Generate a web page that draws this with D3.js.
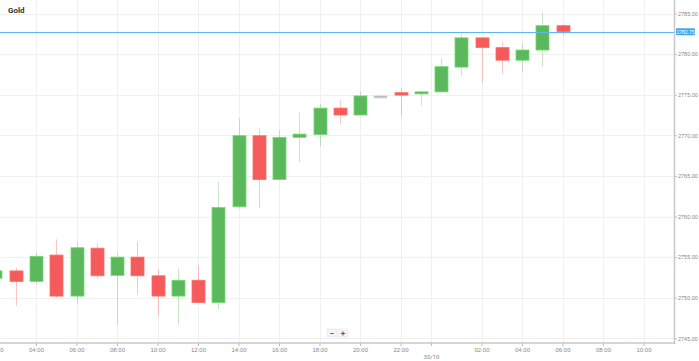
<!DOCTYPE html>
<html>
<head>
<meta charset="utf-8">
<script src="https://cdn.jsdelivr.net/npm/d3@7"></script>
<style>
  html, body { margin: 0; padding: 0; background: #fff; }
  svg { display: block; font-family: Roboto, "Liberation Sans", Arial, sans-serif; }
</style>
</head>
<body>
<svg id="chart" width="699" height="361"></svg>
<script>
// ---- data ----
const title = "Gold";
const candleTimes = [
  "2024-10-29T02:00","2024-10-29T03:00","2024-10-29T04:00","2024-10-29T05:00","2024-10-29T06:00",
  "2024-10-29T07:00","2024-10-29T08:00","2024-10-29T09:00","2024-10-29T10:00","2024-10-29T11:00",
  "2024-10-29T12:00","2024-10-29T13:00","2024-10-29T14:00","2024-10-29T15:00","2024-10-29T16:00",
  "2024-10-29T17:00","2024-10-29T18:00","2024-10-29T19:00","2024-10-29T20:00","2024-10-29T21:00",
  "2024-10-29T22:00","2024-10-29T23:00","2024-10-30T00:00","2024-10-30T01:00","2024-10-30T02:00",
  "2024-10-30T03:00","2024-10-30T04:00","2024-10-30T05:00","2024-10-30T06:00"
];
const opens  = [2752.4,2753.3,2752.0,2755.25,2750.2,2756.1,2752.75,2755.0,2752.7,2750.2,2752.15,2749.4,2761.2,2769.95,2764.55,2769.75,2770.1,2773.35,2772.5,2774.85,2775.25,2775.1,2775.35,2778.4,2782.0,2780.8,2779.25,2780.5,2783.5];
const highs  = [2753.6,2753.7,2755.6,2757.2,2756.9,2756.7,2755.5,2756.95,2753.5,2753.6,2754.0,2764.25,2772.1,2770.85,2770.65,2772.8,2773.85,2774.3,2775.4,2774.9,2775.8,2775.45,2779.5,2782.55,2782.1,2781.5,2781.35,2785.2,2783.7];
const lows   = [2752.2,2749.0,2751.7,2750.0,2749.3,2752.3,2746.6,2750.4,2747.8,2746.65,2749.35,2748.6,2761.0,2761.1,2764.5,2766.7,2768.6,2771.4,2772.4,2774.8,2772.3,2773.7,2775.2,2777.3,2776.5,2777.6,2777.85,2778.45,2782.3];
const closes = [2753.3,2752.0,2755.1,2750.2,2756.15,2752.7,2755.0,2752.7,2750.2,2752.15,2749.4,2761.1,2769.95,2764.55,2769.75,2770.15,2773.35,2772.5,2774.85,2774.85,2774.95,2775.35,2778.45,2782.0,2780.8,2779.25,2780.5,2783.5,2782.75];
const currentPrice = 2782.75;
const currentPriceLabel = "2782.75";
const yTicks = [2745,2750,2755,2760,2765,2770,2775,2780,2785];
const xTickTimes = ["2024-10-29T02:00","2024-10-29T04:00","2024-10-29T06:00","2024-10-29T08:00","2024-10-29T10:00","2024-10-29T12:00","2024-10-29T14:00","2024-10-29T16:00","2024-10-29T18:00","2024-10-29T20:00","2024-10-29T22:00","2024-10-30T02:00","2024-10-30T04:00","2024-10-30T06:00","2024-10-30T08:00","2024-10-30T10:00"];
const dayTickTime = "2024-10-29T23:30";
const dayTickLabel = "30/10";
const xDomain = ["2024-10-29T02:13:20","2024-10-30T11:30:20"];

// ---- layout ----
const parse = d3.isoParse;
const W = 699, H = 361;
const plotRight = 674, axisY = 343;

const x = d3.scaleTime().domain(xDomain.map(parse)).range([0, plotRight]);
const y = d3.scaleLinear().domain([2745, 2785]).range([338.3, 13.5]);

const svg = d3.select("#chart");

const candles = candleTimes.map((t, i) => ({
  t: parse(t), o: opens[i], h: highs[i], l: lows[i], c: closes[i]
}));

const GREEN = "#5cb85c", RED = "#f65b5b", GRAY = "#b3b3b3";
const bodyW = 13;

// gridlines
const grid = svg.append("g");
grid.selectAll(".hg").data(yTicks).join("line")
  .attr("x1", 0).attr("x2", plotRight)
  .attr("y1", d => Math.round(y(d)) + 0.5).attr("y2", d => Math.round(y(d)) + 0.5)
  .attr("stroke", "#f0f0f0").attr("stroke-width", 1);
grid.selectAll(".vg").data(xTickTimes.concat([dayTickTime]).map(parse)).join("line")
  .attr("x1", d => Math.round(x(d)) + 0.5).attr("x2", d => Math.round(x(d)) + 0.5)
  .attr("y1", 0).attr("y2", axisY)
  .attr("stroke", "#f0f0f0").attr("stroke-width", 1);

// candles
const cg = svg.append("g");
function colorOf(d) { return d.c > d.o ? GREEN : (d.c < d.o ? RED : GRAY); }
cg.selectAll(".wick").data(candles).join("line")
  .attr("x1", d => Math.round(x(d.t)) + 0.5).attr("x2", d => Math.round(x(d.t)) + 0.5)
  .attr("y1", d => y(d.h)).attr("y2", d => y(d.l))
  .attr("stroke", colorOf).attr("stroke-opacity", 0.35).attr("stroke-width", 1);
cg.selectAll(".body").data(candles).join("rect")
  .attr("x", d => Math.round(x(d.t)) - bodyW / 2 + 0.5)
  .attr("width", bodyW)
  .attr("y", d => Math.min(y(d.o), y(d.c)))
  .attr("height", d => Math.max(2, Math.abs(y(d.o) - y(d.c))))
  .attr("fill", colorOf)
  .attr("stroke", d => d3.color(colorOf(d)).brighter(0.5))
  .attr("stroke-width", 0.8);

// current price line
svg.append("line")
  .attr("x1", 0).attr("x2", plotRight)
  .attr("y1", Math.round(y(currentPrice)) + 0.5).attr("y2", Math.round(y(currentPrice)) + 0.5)
  .attr("stroke", "#5ab7f3").attr("stroke-width", 1);

// right axis
const yAxis = d3.axisRight(y).tickValues(yTicks).tickSize(3).tickPadding(1)
  .tickFormat(d3.format(".2f"));
const ya = svg.append("g").attr("transform", `translate(${plotRight},0)`).call(yAxis);
ya.select(".domain").remove();
ya.selectAll(".tick line").attr("stroke", "#bbb");
ya.selectAll(".tick text").attr("fill", "#888").attr("font-size", 5.5);
svg.append("line").attr("x1", plotRight + 0.5).attr("x2", plotRight + 0.5)
  .attr("y1", 0).attr("y2", axisY + 1).attr("stroke", "#c8c8c8").attr("stroke-width", 1.5);

// current price label
const py = y(currentPrice);
svg.append("rect").attr("x", plotRight + 2).attr("y", py - 3.5).attr("width", 19).attr("height", 7)
  .attr("rx", 1).attr("fill", "#3ea8f2");
svg.append("text").attr("x", plotRight + 11.5).attr("y", py).attr("dy", "0.35em")
  .attr("text-anchor", "middle").attr("font-size", 5).attr("fill", "#fff").text(currentPriceLabel);

// bottom axis
const xAxis = d3.axisBottom(x).tickValues(xTickTimes.map(parse)).tickSize(3).tickPadding(2)
  .tickFormat(d3.timeFormat("%H:%M"));
const xa = svg.append("g").attr("transform", `translate(0,${axisY})`).call(xAxis);
xa.select(".domain").remove();
xa.selectAll(".tick line").attr("stroke", "#bbb");
xa.selectAll(".tick text").attr("fill", "#888").attr("font-size", 6);
svg.append("line").attr("x1", 0).attr("x2", plotRight + 1)
  .attr("y1", axisY).attr("y2", axisY).attr("stroke", "#c8c8c8").attr("stroke-width", 1.5);
// day tick
const dx = Math.round(x(parse(dayTickTime))) + 0.5;
svg.append("line").attr("x1", dx).attr("x2", dx).attr("y1", axisY).attr("y2", axisY + 3).attr("stroke", "#bbb");
svg.append("text").attr("x", dx).attr("y", 359).attr("text-anchor", "middle")
  .attr("font-size", 6).attr("fill", "#888").text(dayTickLabel);

// title
svg.append("text").attr("x", 8).attr("y", 13).attr("font-size", 8).attr("font-weight", "bold")
  .attr("fill", "#333").text(title);

// zoom controls
const zc = svg.append("g").attr("transform", "translate(327,329)");
[["−", 0], ["+", 11]].forEach(([s, ox]) => {
  zc.append("rect").attr("x", ox).attr("y", 0).attr("width", 10).attr("height", 8)
    .attr("rx", 1).attr("fill", "#f4f4f4").attr("stroke", "#e2e2e2").attr("stroke-width", 0.6);
  zc.append("text").attr("x", ox + 5).attr("y", 4).attr("dy", "0.35em").attr("text-anchor", "middle")
    .attr("font-size", 8).attr("font-weight", "bold").attr("fill", "#555").text(s);
});
</script>
</body>
</html>
